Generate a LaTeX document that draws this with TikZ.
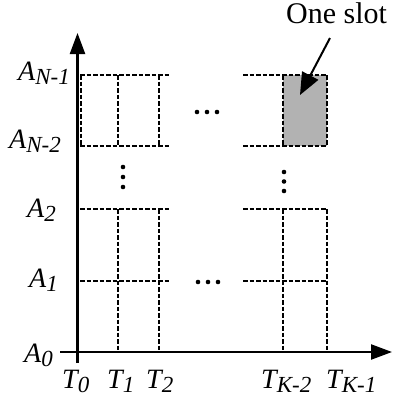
\documentclass[tikz,border=0pt]{standalone}
\usepackage{fontspec}
\setmainfont{Liberation Serif}
\usetikzlibrary{arrows.meta}
\newcommand{\lsub}[1]{\raisebox{-4pt}{\fontsize{23}{25}\selectfont\itshape #1}}
\begin{document}
\begin{tikzpicture}[x=1pt,y=-1pt,
  axisline/.style={line width=2.3pt,-{Triangle[length=21pt,width=15pt]}},
  gridline/.style={line width=1.7pt,dash pattern=on 4.5pt off 2pt},
  lbl/.style={inner sep=0pt,anchor=base west,font=\fontsize{28}{30}\selectfont\itshape},
  toptext/.style={inner sep=0pt,anchor=base west,font=\fontsize{30}{34}\selectfont},
  dotmark/.style={circle,fill=black,inner sep=0pt,minimum size=4.6pt},
  slotbox/.style={rectangle,fill=black!30,draw=none,inner sep=0pt,minimum width=44pt,minimum height=71pt},
  pointer/.style={line width=2pt,-{Triangle[length=22pt,width=18pt]}}]
\useasboundingbox (0,0) rectangle (392,402);

% gray slot
\node[slotbox] (slot) at (305,110.5) {};

% grid, upper band
\foreach \y in {75,146} {
  \draw[gridline] (80,\y) -- (171,\y);
  \draw[gridline] (243,\y) -- (327,\y);
}
\foreach \x in {81,118,159,283,327} {
  \draw[gridline] (\x,75) -- (\x,146);
}
% grid, lower band
\foreach \y in {209,281} {
  \draw[gridline] (80,\y) -- (171,\y);
  \draw[gridline] (243,\y) -- (327,\y);
}
\foreach \x in {118,159,283,327} {
  \draw[gridline] (\x,209) -- (\x,352);
}

% axes
\coordinate (yb) at (77.5,363);
\coordinate (yt) at (77.5,33);
\coordinate (xl) at (60,352);
\coordinate (xr) at (392,352);
\draw[axisline] (yb) -- (yt);
\draw[axisline] (xl) -- (xr);

% dots
\foreach \x in {197,207,217} { \node[dotmark] at (\x,112) {}; }
\foreach \x in {198,208,218} { \node[dotmark] at (\x,282) {}; }
\foreach \y in {167,177,187} { \node[dotmark] at (123,\y) {}; }
\foreach \y in {172,181.5,191} { \node[dotmark] at (284,\y) {}; }

% labels
\node[lbl] (an1) at (18,80) {A\lsub{N-1}};
\node[lbl] (an2) at (9,148) {A\lsub{N-2}};
\node[lbl] (a2) at (27,217) {A\lsub{2}};
\node[lbl] (a1) at (29,287) {A\lsub{1}};
\node[lbl] (a0) at (24,362) {A\lsub{0}};
\node[lbl] (t0) at (62,388) {T\lsub{0}};
\node[lbl] (t1) at (107,388) {T\lsub{1}};
\node[lbl] (t2) at (146,388) {T\lsub{2}};
\node[lbl] (tk2) at (261,388) {T\lsub{K-2}};
\node[lbl] (tk1) at (326,388) {T\lsub{K-1}};

% one slot
\node[toptext] (oneslot) at (286,23) {One slot};
\coordinate (ps) at (330,38);
\coordinate (pe) at (300,95);
\draw[pointer] (ps) -- (pe);
\end{tikzpicture}
\end{document}
